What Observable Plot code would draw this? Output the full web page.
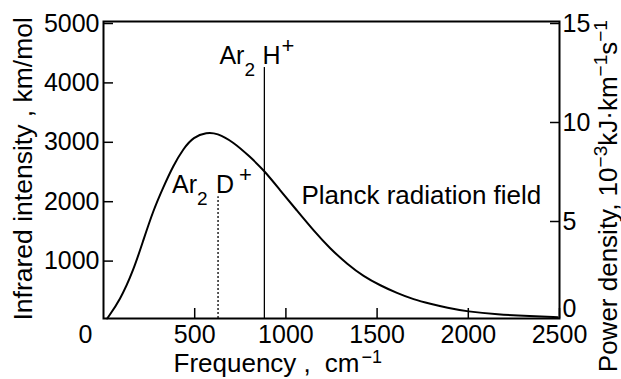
<!DOCTYPE html>
<html><head><meta charset="utf-8">
<script src="https://cdn.jsdelivr.net/npm/d3@7"></script>
<script src="https://cdn.jsdelivr.net/npm/@observablehq/plot@0.6"></script>
<style>html,body{margin:0;padding:0;background:#fff}svg{display:block}</style>
</head><body><div id="chart"></div>
<script>
// Planck radiation field curve (left axis units, km/mol)
const freq =      [20, 90, 164, 218, 273, 328, 383, 438, 493, 566, 621, 712, 804, 877, 969, 1060, 1151, 1243, 1335, 1426, 1518, 1609, 1700, 1792, 1884, 1993, 2158, 2341, 2490];
const intensity = [0, 303, 809, 1314, 1820, 2213, 2578, 2860, 3056, 3134, 3123, 2972, 2719, 2505, 2157, 1820, 1483, 1174, 921, 708, 556, 427, 320, 247, 180, 118, 67, 39, 22];
// Band lines
const bandNames = ["Ar2H+", "Ar2D+"];
const bandFreq = [882, 628];
const bandIntensity = [4225, 2050];
// Ticks
const xTicks = [500, 1000, 1500, 2000, 2500];
const yTicks = [1000, 2000, 3000, 4000, 5000];
const rightTicks = [5, 10, 15];
const rightMax = 15;
const yMax = 5000;
const xMax = 2500;
// Planck label anchor (data units)
const planckLabel = [{freq: 1085, value: 1935, text: "Planck radiation field"}];

const curve = freq.map((f, i) => ({freq: f, value: intensity[i]}));
const bands = bandNames.map((n, i) => ({name: n, freq: bandFreq[i], top: bandIntensity[i]}));
const toLeft = v => v * yMax / rightMax;
const fmt = d => String(d);
const fmtRight = d => String(Math.round(d * rightMax / yMax));

const FONT = "'Liberation Sans', Arial, Helvetica, sans-serif";

const chart = Plot.plot({
  width: 621, height: 379,
  marginLeft: 103, marginRight: 62, marginTop: 21, marginBottom: 61,
  style: {background: "white", color: "black", fontFamily: FONT, fontSize: "25px"},
  x: {domain: [0, xMax]},
  y: {domain: [0, yMax]},
  marks: [
    Plot.axisX({ticks: xTicks, tickSize: -10, tickPadding: 17, strokeWidth: 1.5, fontSize: 25, tickFormat: fmt, label: null}),
    Plot.axisX({ticks: [0], tickSize: 0, tickPadding: 7, dx: -18, fontSize: 25, tickFormat: fmt, label: null}),
    Plot.axisY({ticks: yTicks, tickSize: -10, tickPadding: 14, strokeWidth: 1.5, fontSize: 25, dy: 2, tickFormat: fmt, label: null}),
    Plot.axisY({anchor: "right", ticks: rightTicks.map(toLeft), tickSize: -10, tickPadding: 13, strokeWidth: 1.5, fontSize: 25, dy: 2,
      tickFormat: fmtRight, label: null}),
    Plot.axisY({anchor: "right", ticks: [0], tickSize: 0, tickPadding: 3, fontSize: 25, dy: -10, tickFormat: fmtRight, label: null}),
    Plot.frame({stroke: "black", strokeWidth: 2}),
    Plot.line(curve, {x: "freq", y: "value", stroke: "black", strokeWidth: 2, curve: "basis"}),
    Plot.ruleX(bands.slice(0, 1), {x: "freq", y1: 0, y2: "top", stroke: "black", strokeWidth: 1.3}),
    Plot.ruleX(bands.slice(1, 2), {x: "freq", y1: 0, y2: "top", stroke: "black", strokeWidth: 1.3, strokeDasharray: "2,2"}),
    Plot.text(bands, {x: "freq", y: "top", text: "name", textAnchor: "start", lineAnchor: "bottom", dy: -4, fontSize: 25}),
    Plot.text(planckLabel, {x: "freq", y: "value", text: "text", textAnchor: "start", lineAnchor: "bottom", fontSize: 26}),
    Plot.text(["Frequency , cm−1"], {frameAnchor: "bottom-left", textAnchor: "start", lineAnchor: "bottom", dx: 70, dy: 53, fontSize: 26}),
    Plot.text(["Infrared intensity , km/mol"], {frameAnchor: "bottom-left", textAnchor: "start", lineAnchor: "bottom", rotate: -90, dx: -71.5, dy: 2, fontSize: 26.5}),
    Plot.text(["Power density, 10−3kJ·km−1s−1"], {frameAnchor: "bottom-right", textAnchor: "start", lineAnchor: "bottom", rotate: -90, dx: 57, dy: 53.7, fontSize: 26})
  ]
});

document.getElementById("chart").appendChild(chart);
const svg = d3.select(chart);

function rich(content, parts) {
  const t = svg.selectAll("text").filter(function () { return this.textContent === content; });
  if (t.empty()) return;
  t.text(null);
  for (const p of parts) {
    const s = t.append("tspan").text(p.t);
    if (p.size) s.attr("font-size", p.size);
    if (p.dy) s.attr("dy", p.dy);
    if (p.dx) s.attr("dx", p.dx);
    if (p.x != null) s.attr("x", p.x);
  }
}
rich("Ar2H+", [{t: "Ar", x: -45}, {t: "2", size: 19, dy: 12}, {t: "H", x: -2, dy: -12}, {t: "+", size: 22, dy: -11, dx: 1}]);
rich("Ar2D+", [{t: "Ar", x: -46}, {t: "2", size: 19, dy: 12}, {t: "D", x: -2, dy: -12}, {t: "+", size: 22, dy: -11, dx: 5}]);
rich("Frequency , cm−1", [{t: "Frequency ,"}, {t: "cm", dx: 14}, {t: "−1", size: 18, dy: -9, dx: 2}]);
rich("Power density, 10−3kJ·km−1s−1", [{t: "Power density, 10"}, {t: "−3", size: 19, dy: -10}, {t: "kJ·km", dy: 10}, {t: "−1", size: 19, dy: -10}, {t: "s", dy: 10}, {t: "−1", size: 19, dy: -10}]);
</script>
</body></html>
